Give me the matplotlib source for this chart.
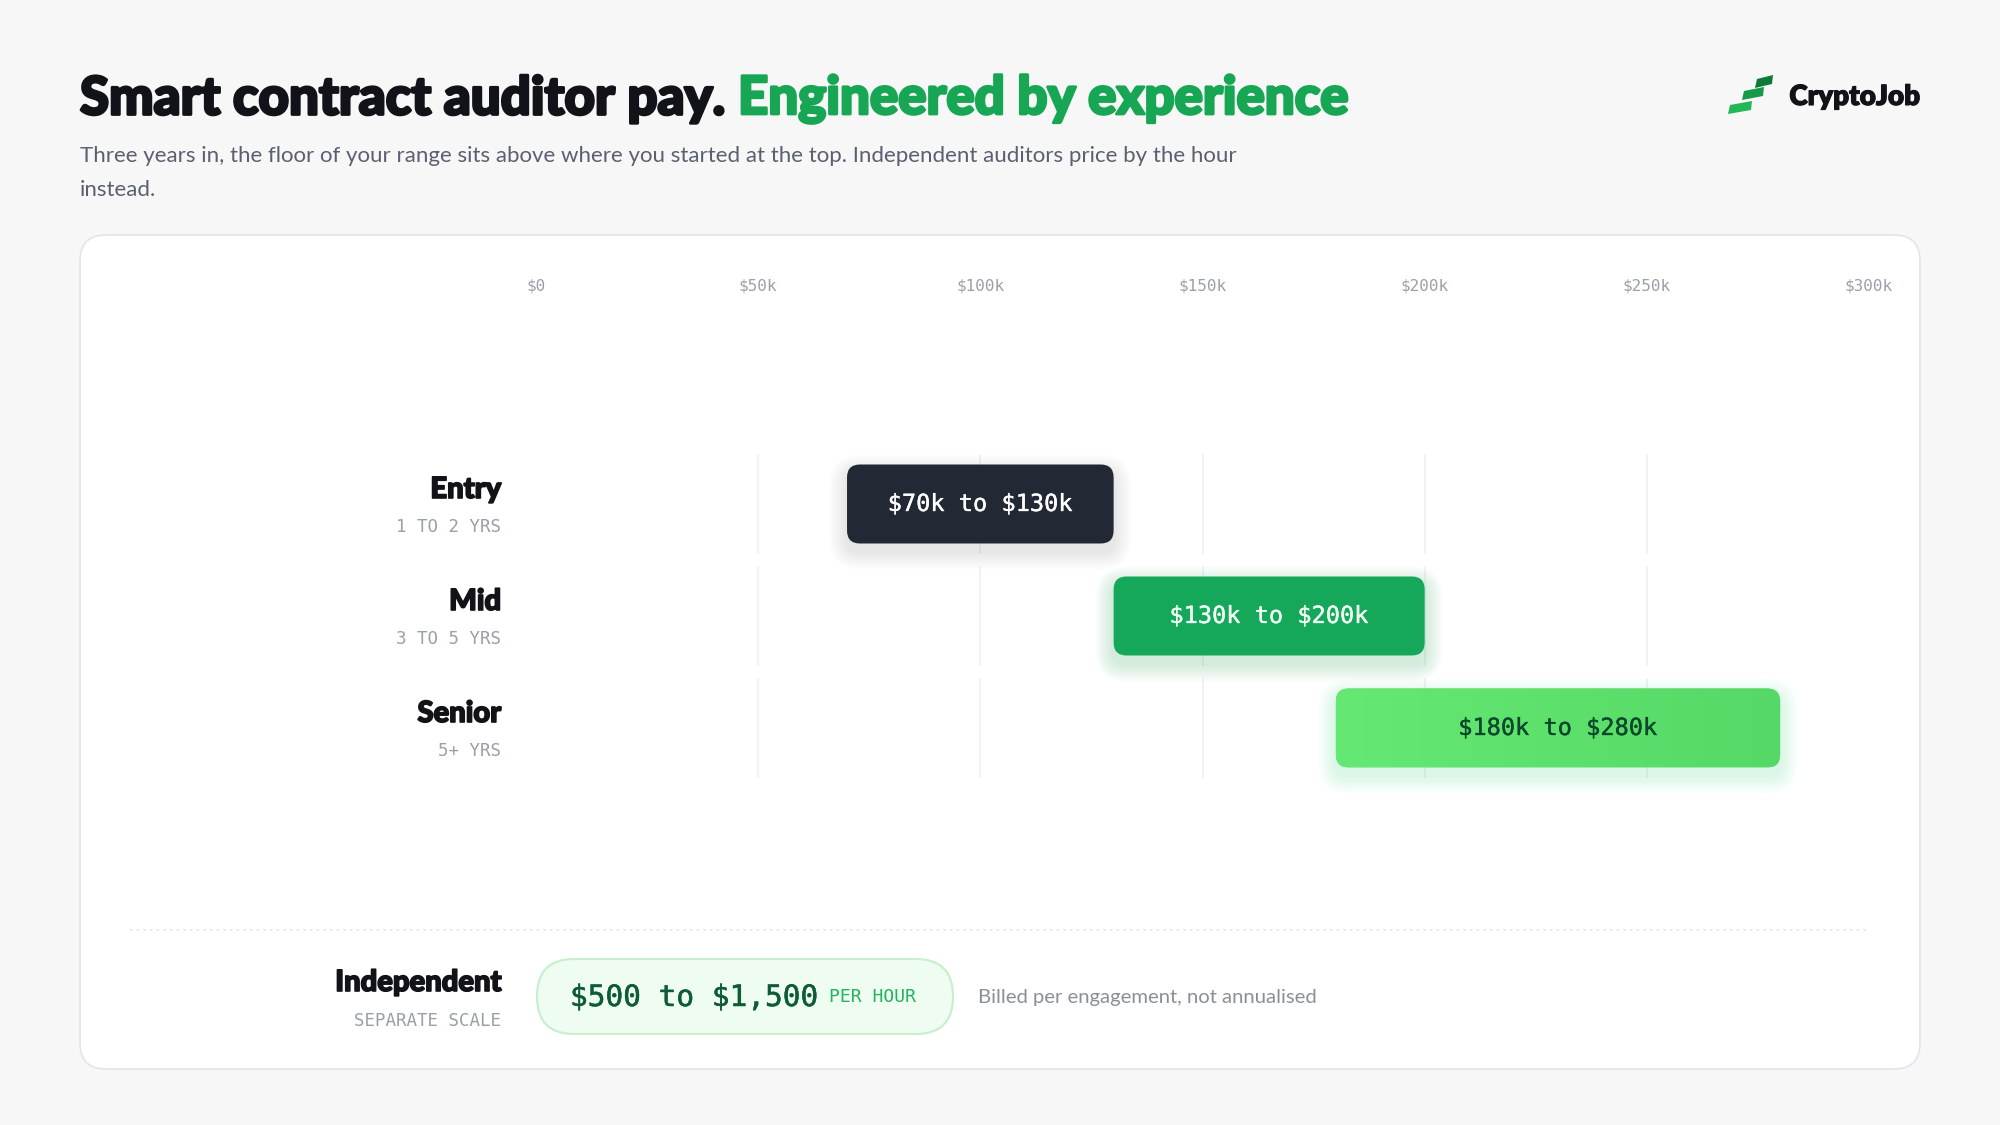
import numpy as np
import matplotlib.pyplot as plt
import matplotlib.patheffects as pe
from matplotlib.patches import FancyBboxPatch, Polygon
from matplotlib.colors import LinearSegmentedColormap
from matplotlib.transforms import blended_transform_factory

plt.rcParams["text.parse_math"] = False

# -----------------------------
# Data
# -----------------------------
levels = ["Entry", "Mid", "Senior"]
years = ["1 TO 2 YRS", "3 TO 5 YRS", "5+ YRS"]
low_pay = [70000, 130000, 180000]
high_pay = [130000, 200000, 280000]
bar_labels = ["$70k to $130k", "$130k to $200k", "$180k to $280k"]
tick_values = [0, 50000, 100000, 150000, 200000, 250000, 300000]
tick_labels = ["$0", "$50k", "$100k", "$150k", "$200k", "$250k", "$300k"]
grid_values = [50000, 100000, 150000, 200000, 250000]
hourly_label = "$500 to $1,500"

BG = "#f7f7f8"
DARK = "#111318"
GREEN = "#17a654"
GREY = "#5b6070"
MUTED = "#9aa0a8"
MONO = "DejaVu Sans Mono"
HEAD = "Lato"


def heavy(c, w=1.4):
    return [pe.withStroke(linewidth=w, foreground=c)]


fig = plt.figure(figsize=(20, 11.25), dpi=100)
fig.patch.set_facecolor(BG)

# background axes in pixel units
bg = fig.add_axes([0, 0, 1, 1], zorder=0)
bg.set_xlim(0, 2000)
bg.set_ylim(1125, 0)
bg.axis("off")

# card
card = FancyBboxPatch((80, 235), 1840, 834, boxstyle="round,pad=0,rounding_size=26",
                      fc="white", ec="#e4e6ea", lw=1.3)
bg.add_patch(card)

# -----------------------------
# Title + subtitle
# -----------------------------
t1 = bg.text(80, 99, "Smart contract auditor pay.", fontsize=38, family=HEAD,
             weight="black", color=DARK, va="center", ha="left",
             path_effects=heavy(DARK, 2))
bg.annotate("Engineered by experience", xy=(1, 0), xycoords=t1, xytext=(9, 0),
            textcoords="offset points", fontsize=38, family=HEAD, weight="black",
            color=GREEN, va="bottom", ha="left", path_effects=heavy(GREEN, 2))
bg.text(80, 156, "Three years in, the floor of your range sits above where you started at the top. "
        "Independent auditors price by the hour", fontsize=16, family=HEAD,
        color=GREY, va="center", ha="left")
bg.text(80, 190, "instead.", fontsize=16, family=HEAD, color=GREY, va="center", ha="left")

# logo
logo_cols = ["#22b85a", "#149a48", "#0e7a3a"]
strokes = [(1728, 1752, 114), (1742, 1764, 100), (1755, 1773, 88)]
for (x0, x1, yb), c in zip(strokes, logo_cols):
    bg.add_patch(Polygon([(x0, yb), (x0 + 2, yb - 9), (x1, yb - 13), (x1 - 1, yb - 4)],
                         closed=True, fc=c, ec="none"))
bg.text(1920, 97, "CryptoJob", fontsize=20, family=HEAD, weight="heavy",
        color=DARK, va="center", ha="right", path_effects=heavy(DARK, 0.8))

# -----------------------------
# Chart axes
# -----------------------------
ax_left, ax_right = 536, 1869
ax_top, ax_bot = 436.8, 795.2
ax = fig.add_axes([ax_left / 2000, 1 - ax_bot / 1125, (ax_right - ax_left) / 2000,
                   (ax_bot - ax_top) / 1125], zorder=1)
ax.patch.set_alpha(0)
ax.set_xlim(0, 300000)
ax.set_ylim(2.6, -0.6)
ax.axis("off")

x_per_px = 300000 / (ax_right - ax_left)
y_per_px = 3.2 / (ax_bot - ax_top)
asp = y_per_px / x_per_px
bar_h = 79 * y_per_px
r = 13 * x_per_px

# gridlines per row
for i in range(len(levels)):
    ax.vlines(grid_values, i - 0.45, i + 0.45, color="#eef0f2", lw=1.2, zorder=1)

# top tick labels
trans_top = blended_transform_factory(ax.transData, fig.transFigure)
for v, lab in zip(tick_values, tick_labels):
    ax.text(v, 1 - 286 / 1125, lab, transform=trans_top, ha="center", va="center",
            family=MONO, fontsize=11.5, color=MUTED)

fills = ["#222834", "#15a75a", None]
shadow_cols = ["#1f2937", "#16a34a", "#4ade80"]
text_cols = ["white", "#f0fff4", "#0a4a2a"]
for i, (lo, hi) in enumerate(zip(low_pay, high_pay)):
    # soft shadow
    for k in range(8):
        pad = (k + 1) * 2.2 * x_per_px
        sh = FancyBboxPatch((lo, i - bar_h / 2 + 8 * y_per_px), hi - lo, bar_h,
                            boxstyle=f"round,pad={pad},rounding_size={r + pad}",
                            mutation_aspect=asp, fc=shadow_cols[i], ec="none",
                            alpha=0.022 if i else 0.01, zorder=2)
        ax.add_patch(sh)
    box = FancyBboxPatch((lo, i - bar_h / 2), hi - lo, bar_h,
                         boxstyle=f"round,pad=0,rounding_size={r}", mutation_aspect=asp,
                         fc=fills[i] if fills[i] else "#5de06c", ec="none", zorder=3)
    ax.add_patch(box)
    if fills[i] is None:
        cmap = LinearSegmentedColormap.from_list("sen", ["#66e874", "#55d865"])
        grad = np.linspace(0, 1, 256).reshape(1, -1)
        im = ax.imshow(grad, cmap=cmap, extent=(lo, hi, i + bar_h / 2, i - bar_h / 2),
                       aspect="auto", zorder=4)
        im.set_clip_path(box)
    ax.text((lo + hi) / 2, i, bar_labels[i], ha="center", va="center", family=MONO,
            fontsize=17, color=text_cols[i], zorder=5,
            path_effects=heavy(text_cols[i], 0.25))

ax.set_xlim(0, 300000)
ax.set_ylim(2.6, -0.6)

# row labels
trans_row = blended_transform_factory(bg.transData, ax.transData)
for i, (lv, yr) in enumerate(zip(levels, years)):
    ax.text(501, i - 14 * y_per_px, lv, transform=trans_row, ha="right", va="center",
            family=HEAD, weight="black", fontsize=21, color=DARK,
            path_effects=heavy(DARK, 1.2))
    ax.text(501, i + 23 * y_per_px, yr, transform=trans_row, ha="right", va="center",
            family=MONO, fontsize=12.6, color=MUTED)

# -----------------------------
# Independent row (separate scale)
# -----------------------------
bg.plot([130, 1869], [930, 930], color="#e3e5e8", lw=1.2, ls=(0, (1.5, 2.5)))
bg.text(501, 983, "Independent", ha="right", va="center", family=HEAD,
        weight="black", fontsize=21, color=DARK, path_effects=heavy(DARK, 1.2))
bg.text(501, 1021, "SEPARATE SCALE", ha="right", va="center", family=MONO,
        fontsize=12.6, color=MUTED)
pill = FancyBboxPatch((537, 959), 416, 75, boxstyle="round,pad=0,rounding_size=37",
                      fc="#effcf1", ec="#c4f0cc", lw=1.5)
bg.add_patch(pill)
h1 = bg.text(570, 998, hourly_label, ha="left", va="center", family=MONO,
             fontsize=21.2, color="#0d5c35", path_effects=heavy("#0d5c35", 0.35))
bg.annotate("PER HOUR", xy=(1, 0.2), xycoords=h1, xytext=(9, 0),
            textcoords="offset points", ha="left", va="bottom", family=MONO,
            fontsize=13, color="#22b35f")
bg.text(978, 998, "Billed per engagement, not annualised", ha="left", va="center",
        family=HEAD, fontsize=14.6, color="#8b8f97")

plt.savefig("out.png", dpi=100, facecolor=BG)
